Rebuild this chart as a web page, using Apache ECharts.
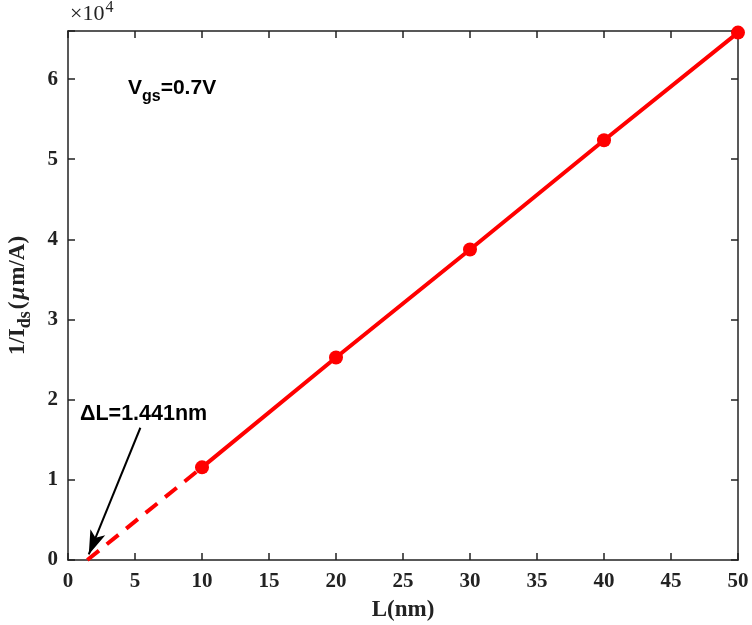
<!DOCTYPE html>
<html><head><meta charset="utf-8">
<script src="https://cdn.jsdelivr.net/npm/echarts@6/dist/echarts.min.js"></script>
<style>html,body{margin:0;padding:0;background:#fff}#c{width:752px;height:625px}</style>
</head><body><div id="c"></div>
<script>
const lengths = [10, 20, 30, 40, 50];
const invIds = [11560, 25270, 38740, 52370, 65800];
const extrapX = [1.441, 10];
const extrapY = [0, 11560];
const arrowFrom = [5.4, 16500];
const arrowTo = [1.55, 700];
const xTicks = [0,5,10,15,20,25,30,35,40,45,50];
const yTicks = [0,1,2,3,4,5,6];

const chart = echarts.init(document.getElementById('c'), null, {renderer:'canvas'});
const axisCol = '#222222';
const serif = 'Liberation Serif, Times New Roman, serif';
const sans = 'Liberation Sans, Arial, sans-serif';
const tickFont = {fontFamily:serif, fontWeight:'bold', fontSize:21, color:axisCol};
const solid = lengths.map((x,i)=>[x, invIds[i]]);
const dashed = extrapX.map((x,i)=>[x, extrapY[i]]);
const lineSt = {lineStyle:{color:axisCol, width:1.5}, onZero:false};
chart.setOption({
  animation:false,
  grid:{left:68, right:14, top:31, bottom:65, containLabel:false, outerBoundsMode:'none'},
  xAxis:[{
    type:'value', min:0, max:50, interval:5, position:'bottom',
    axisLine:lineSt,
    axisTick:{inside:true, length:7, lineStyle:{color:axisCol, width:1.5}},
    axisLabel:Object.assign({margin:11, formatter:v=>xTicks.includes(v)?String(v):''}, tickFont),
    splitLine:{show:false},
    name:'L(nm)', nameLocation:'middle', nameGap:39,
    nameTextStyle:{fontFamily:serif, fontWeight:'bold', fontSize:23, color:axisCol}
  },{
    type:'value', min:0, max:50, interval:5, position:'top',
    axisLine:lineSt,
    axisTick:{inside:true, length:7, lineStyle:{color:axisCol, width:1.5}},
    axisLabel:{show:false}, splitLine:{show:false}
  }],
  yAxis:[{
    type:'value', min:0, max:66000, interval:10000, position:'left',
    axisLine:Object.assign({show:true}, lineSt),
    axisTick:{show:true, inside:true, length:7, lineStyle:{color:axisCol, width:1.5}},
    axisLabel:Object.assign({margin:10, formatter:v=>{const t=v/10000;return yTicks.includes(t)?String(t):'';}}, tickFont),
    splitLine:{show:false},
    name:'{a|1/I}{s|ds}{a|(}{m|μ}{a|m/A)}', nameLocation:'middle', nameGap:34, nameRotate:90,
    nameTextStyle:{rich:{
      a:{fontFamily:serif, fontWeight:'bold', fontSize:23, color:axisCol},
      s:{fontFamily:serif, fontWeight:'bold', fontSize:18, color:axisCol, verticalAlign:'bottom', padding:[14,2,0,0]},
      m:{fontFamily:serif, fontWeight:'bold', fontStyle:'italic', fontSize:23, color:axisCol, padding:[0,1,0,2]}
    }}
  },{
    type:'value', min:0, max:66000, interval:10000, position:'right',
    axisLine:Object.assign({show:true}, lineSt),
    axisTick:{show:true, inside:true, length:7, lineStyle:{color:axisCol, width:1.5}},
    axisLabel:{show:false}, splitLine:{show:false}
  }],
  series:[{
    type:'line', data:dashed, symbol:'none',
    lineStyle:{color:'#ff0000', width:4, type:[15,10]},
    markLine:{
      silent:true, symbol:['none','arrow'], symbolSize:[12,24],
      lineStyle:{color:'#000', width:2, type:'solid'},
      label:{show:false},
      data:[[{coord:arrowFrom},{coord:arrowTo}]]
    }
  },{
    type:'line', data:solid, symbol:'circle', symbolSize:14,
    itemStyle:{color:'#ff0000'},
    lineStyle:{color:'#ff0000', width:4}
  }],
  graphic:[
    {type:'text', left:70, top:0, style:{
      text:'{a|×10}{b|4}', rich:{
        a:{fontFamily:serif, fontSize:22, fill:axisCol},
        b:{fontFamily:serif, fontSize:16, fill:axisCol, verticalAlign:'top', padding:[0,0,12,1]}
      }}},
    {type:'text', left:128, top:78, style:{
      text:'{a|V}{s|gs}{a|=0.7V}', rich:{
        a:{fontFamily:sans, fontWeight:'bold', fontSize:21, fill:'#000'},
        s:{fontFamily:sans, fontWeight:'bold', fontSize:16, fill:'#000', padding:[16,0,0,0]}
      }}},
    {type:'text', left:80, top:403, style:{
      text:'ΔL=1.441nm', font:'bold 21.5px Liberation Sans, Arial, sans-serif', fill:'#000'}}
  ]
});
</script></body></html>
